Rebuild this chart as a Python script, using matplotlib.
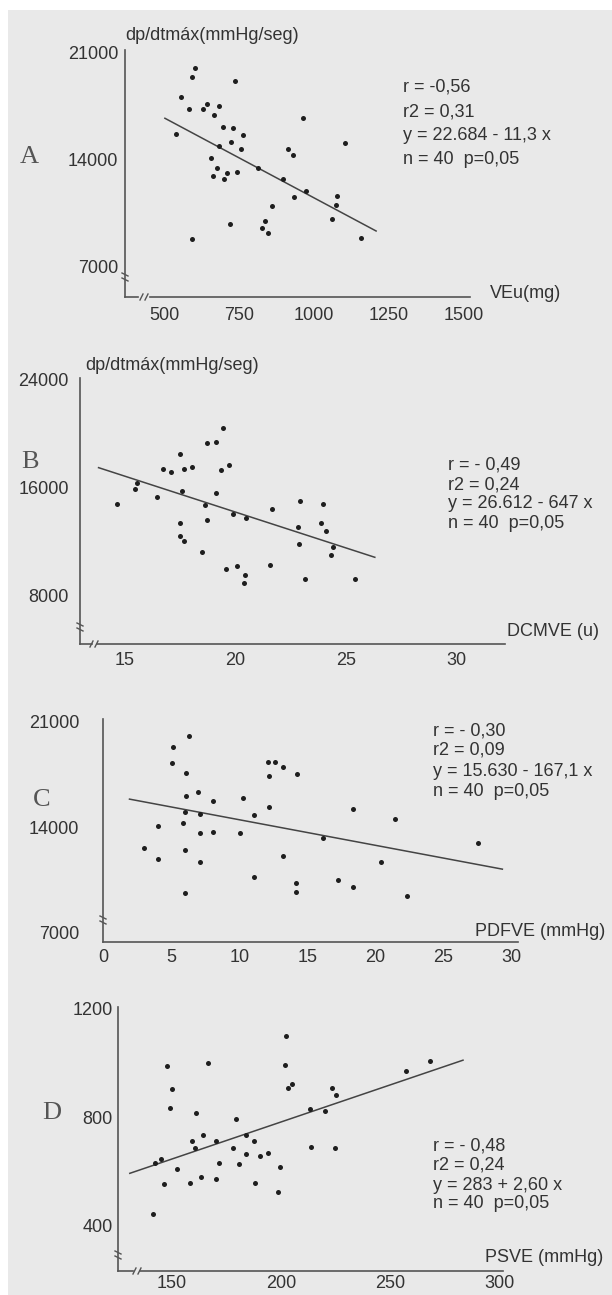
import matplotlib.pyplot as plt
from matplotlib.lines import Line2D
from matplotlib.patches import Rectangle

# Data
a_x = [603, 594, 737, 557, 584, 631, 644, 683, 667, 540, 698, 729, 762, 722, 684, 756, 657, 676, 664, 700,
       711, 742, 814, 896, 914, 929, 934, 861, 837, 828, 848, 720, 592, 964, 1103, 973, 1076, 1072, 1061, 1156]
a_y = [20000, 19450, 19170, 18140, 17320, 17320, 17660, 17530, 16920, 15680, 16180, 16070, 15640, 15200, 14920,
       14700, 14150, 13500, 12960, 12740, 13130, 13240, 13500, 12740, 14700, 14330, 11600, 11000, 10030, 9570,
       9240, 9790, 8810, 16730, 15090, 11970, 11640, 11060, 10140, 8920]
a_fit_x = [503, 1207]
a_fit_y = [16730, 9355]

b_x = [19.42, 18.70, 19.12, 17.50, 16.73, 17.08, 17.68, 18.05, 19.33, 19.72, 15.53, 15.45, 14.62, 16.43, 17.56,
       19.10, 18.62, 19.87, 20.48, 21.67, 17.49, 18.72, 17.49, 17.68, 18.50, 19.57, 20.05, 20.43, 20.40, 21.56,
       22.90, 22.81, 22.85, 23.97, 23.85, 24.10, 24.40, 24.31, 23.14, 25.41]
b_y = [20385, 19270, 19390, 18460, 17350, 17170, 17350, 17500, 17300, 17640, 16310, 15870, 14780, 15270, 15760,
       15570, 14700, 14040, 13760, 14410, 13350, 13590, 12410, 12060, 11240, 9985, 10185, 9520, 8950, 10240,
       15000, 13100, 11820, 14760, 13390, 12780, 11570, 11000, 9245, 9245]
b_fit_x = [13.8, 26.3]
b_fit_y = [17470, 10830]

c_x = [6.26, 5.11, 5.03, 6.04, 12.11, 12.60, 13.21, 14.25, 12.16, 6.09, 6.95, 8.06, 10.22, 12.18, 6.02, 7.07,
       11.05, 5.84, 4.03, 7.07, 8.06, 10.07, 2.97, 5.99, 4.03, 7.07, 13.21, 11.08, 14.15, 14.15, 5.97, 18.33,
       21.44, 16.16, 27.58, 20.39, 17.27, 18.33, 22.35]
c_y = [20050, 19340, 18280, 17620, 18300, 18300, 17970, 17530, 17400, 16070, 16340, 15740, 15960, 15360, 15030,
       14860, 14810, 14300, 14080, 13600, 13700, 13640, 12640, 12530, 11870, 11710, 12110, 10680, 10320, 9720,
       9650, 15210, 14530, 13300, 12980, 11710, 10500, 10060, 9480]
c_fit_x = [1.9, 29.35]
c_fit_y = [15870, 11230]

d_x = [202.5, 202.0, 166.6, 148.0, 203.2, 205.2, 149.9, 149.1, 161.0, 179.2, 164.1, 159.3, 170.1, 183.8, 187.5,
       160.5, 178.1, 184.2, 190.3, 194.1, 145.3, 142.2, 152.2, 171.6, 180.7, 199.4, 146.5, 158.2, 163.6, 170.1,
       188.0, 198.4, 141.4, 213.2, 220.0, 223.4, 225.1, 257.1, 268.1, 213.9, 224.6]
d_y = [1099, 991, 1001, 988, 906, 924, 902, 834, 816, 793, 733, 713, 713, 733, 713, 685, 685, 666, 657, 669,
       644, 632, 608, 632, 626, 617, 552, 558, 580, 571, 558, 525, 444, 829, 822, 906, 881, 969, 1007, 691, 685]
d_fit_x = [130.8, 283.3]
d_fit_y = [593, 1010]

a_stats = ["r = -0,56", "r2 = 0,31", "y = 22.684 - 11,3 x", "n = 40  p=0,05"]
b_stats = ["r = - 0,49", "r2 = 0,24", "y = 26.612 - 647 x", "n = 40  p=0,05"]
c_stats = ["r = - 0,30", "r2 = 0,09", "y = 15.630 - 167,1 x", "n = 40  p=0,05"]
d_stats = ["r = - 0,48", "r2 = 0,24", "y = 283 + 2,60 x", "n = 40  p=0,05"]

W, H = 612, 1295
INK = '#333333'
FONT = 'Liberation Sans'
FS = 13

fig = plt.figure(figsize=(W / 100, H / 100), dpi=100)
fig.patch.set_facecolor('white')
fig.add_artist(Rectangle((8 / W, 0), 1, 1 - 10 / H, transform=fig.transFigure,
                         facecolor='#e9e9e9', edgecolor='none', zorder=0))


def ftext(x, y, s, **kw):
    kw.setdefault('color', INK)
    kw.setdefault('family', FONT)
    kw.setdefault('fontsize', FS)
    fig.text(x / W, 1 - y / H, s, **kw)


def brk(x, y, vertical=True):
    # small axis-break squiggle, in figure pixels
    if vertical:
        pts = [(x - 3, y - 4), (x + 3, y - 1)], [(x - 3, y + 1), (x + 3, y + 4)]
    else:
        pts = [(x - 4, y + 3), (x - 1, y - 3)], [(x + 1, y + 3), (x + 4, y - 3)]
    for p in pts:
        fig.add_artist(Line2D([p[0][0] / W, p[1][0] / W], [1 - p[0][1] / H, 1 - p[1][1] / H],
                              transform=fig.transFigure, color='#555555', lw=1))


def panel(box, xlim, ylim, xs, ys, fx, fy, xticks, yticks, xstart, ypad, xpad):
    left, right, top, bottom = box
    ax = fig.add_axes([left / W, 1 - bottom / H, (right - left) / W, (bottom - top) / H])
    ax.patch.set_alpha(0)
    ax.set_xlim(xlim)
    ax.set_ylim(ylim)
    ax.scatter(xs, ys, s=13, color='#1e1e1e', linewidths=0, zorder=3)
    ax.plot(fx, fy, color='#444444', lw=1.1)
    for s in ['top', 'right']:
        ax.spines[s].set_visible(False)
    for s in ['left', 'bottom']:
        ax.spines[s].set_color('#555555')
        ax.spines[s].set_linewidth(1.2)
    ax.spines['bottom'].set_bounds(xstart, xlim[1])
    ax.set_xticks(xticks)
    ax.set_xticklabels([str(t) for t in xticks])
    ax.set_yticks(yticks)
    ax.set_yticklabels([str(t) for t in yticks])
    ax.tick_params(length=0, colors=INK, labelsize=FS)
    ax.tick_params(axis='y', pad=ypad)
    ax.tick_params(axis='x', pad=xpad)
    for lab in ax.get_xticklabels() + ax.get_yticklabels():
        lab.set_family(FONT)
    return ax


# Panel A
panel((125, 470, 50, 297), (370, 1520), (5037, 21196), a_x, a_y, a_fit_x, a_fit_y,
      [500, 750, 1000, 1250, 1500], [7000, 14000, 21000], 453, 5, 7)
fig.add_artist(Line2D([125 / W, 138 / W], [1 - 297 / H, 1 - 297 / H], transform=fig.transFigure,
                      color='#555555', lw=1.2))
brk(125, 277)
brk(144, 297, vertical=False)
ftext(125, 35, "dp/dtmáx(mmHg/seg)", va='center')
ftext(490, 293, "VEu(mg)", va='center')
ftext(29, 157, "A", family='Liberation Serif', fontsize=19, ha='center', va='center', color='#555555')
for i, s in enumerate(a_stats):
    ftext(403, [87, 112, 135, 159][i], s, va='center')

# Panel B
panel((80, 505, 378, 644), (12.96, 32.19), (4407, 24111), b_x, b_y, b_fit_x, b_fit_y,
      [15, 20, 25, 30], [8000, 16000, 24000], 13.73, 8, 6)
fig.add_artist(Line2D([80 / W, 92 / W], [1 - 644 / H, 1 - 644 / H], transform=fig.transFigure,
                      color='#555555', lw=1.2))
brk(80, 627)
brk(94, 644, vertical=False)
ftext(85, 365, "dp/dtmáx(mmHg/seg)", va='center')
ftext(507, 631, "DCMVE (u)", va='center')
ftext(30, 462, "B", family='Liberation Serif', fontsize=19, ha='center', va='center', color='#555555')
for i, s in enumerate(b_stats):
    ftext(448, [465, 485, 504, 523][i], s, va='center')

# Panel C
panel((103, 518, 719, 942), (-0.05, 30.5), (6403, 21179), c_x, c_y, c_fit_x, c_fit_y,
      [0, 5, 10, 15, 20, 25, 30], [7000, 14000, 21000], -0.05, 17, 5)
brk(103, 920)
ftext(475, 932, "PDFVE (mmHg)", va='center')
ftext(42, 800, "C", family='Liberation Serif', fontsize=19, ha='center', va='center', color='#555555')
for i, s in enumerate(c_stats):
    ftext(433, [731, 750, 771, 791][i], s, va='center')

# Panel D
panel((118, 503, 1007, 1271), (125.4, 301.6), (233, 1206), d_x, d_y, d_fit_x, d_fit_y,
      [150, 200, 250, 300], [400, 800, 1200], 135.4, 4, 3)
fig.add_artist(Line2D([118 / W, 133 / W], [1 - 1271 / H, 1 - 1271 / H], transform=fig.transFigure,
                      color='#555555', lw=1.2))
brk(118, 1255)
brk(137, 1271, vertical=False)
ftext(485, 1257, "PSVE (mmHg)", va='center')
ftext(52, 1113, "D", family='Liberation Serif', fontsize=19, ha='center', va='center', color='#555555')
for i, s in enumerate(d_stats):
    ftext(433, [1146, 1165, 1185, 1204][i], s, va='center')

fig.savefig('out.png', dpi=100, facecolor=fig.get_facecolor())
